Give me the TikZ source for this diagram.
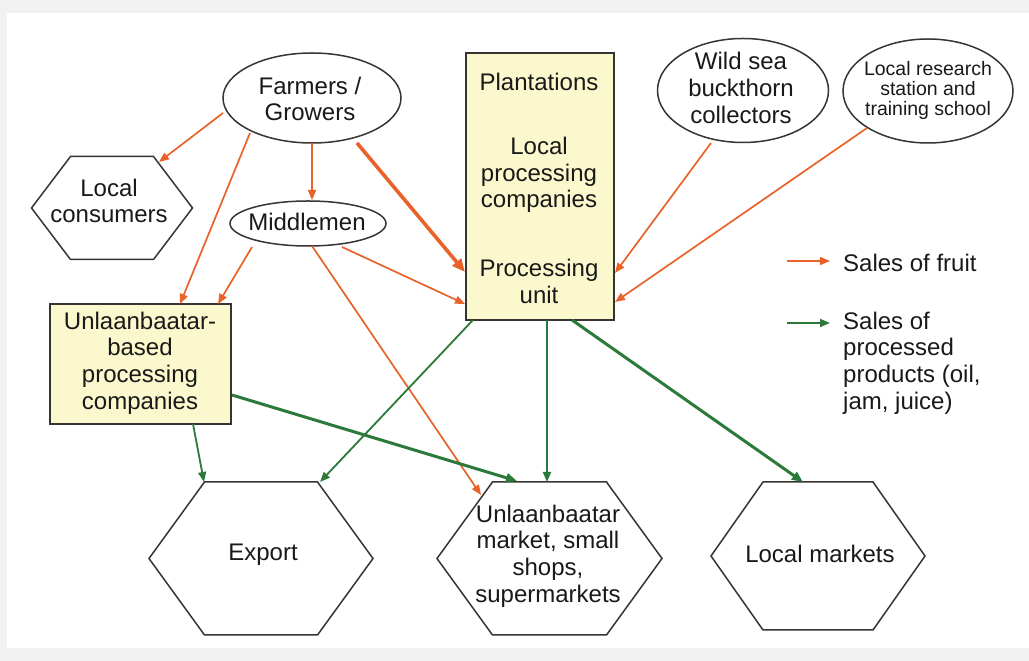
\documentclass[tikz,border=0pt]{standalone}
\usepackage{fontspec}
\setmainfont{Liberation Sans}
\usetikzlibrary{calc,shapes.geometric,arrows.meta}
\definecolor{fruit}{RGB}{232,98,42}
\definecolor{proc}{RGB}{44,122,58}
\definecolor{boxfill}{RGB}{250,248,204}
\definecolor{edgecol}{RGB}{55,52,50}
\definecolor{framecol}{RGB}{241,241,241}
\newcommand\hexshape[4]{%
  \draw[hexline] ($(#1.center)+(-#2,0)$) -- ($(#1.center)+(-#4,#3)$) -- ($(#1.center)+(#4,#3)$)
    -- ($(#1.center)+(#2,0)$) -- ($(#1.center)+(#4,-#3)$) -- ($(#1.center)+(-#4,-#3)$) -- cycle;}
\tikzset{
  txt/.style={font=\fontsize{24}{26.7}\selectfont, align=center, inner sep=0pt, text=black!90},
  smalltxt/.style={font=\fontsize{19.5}{20}\selectfont, align=center, inner sep=0pt, text=black!90},
  ell/.style={ellipse, draw=edgecol, line width=1.5pt, fill=white, inner sep=0pt},
  ybox/.style={rectangle, draw=edgecol, line width=1.5pt, fill=boxfill, inner sep=0pt},
  hexline/.style={draw=edgecol, line width=1.5pt, fill=white},
  slot/.style={inner sep=0pt, draw=none},
  fruitarr/.style={draw=fruit, line width=1.7pt, -{Triangle[length=10pt,width=8pt]}},
  fruitthick/.style={draw=fruit, line width=3.6pt, -{Triangle[length=13pt,width=11pt]}},
  procarr/.style={draw=proc, line width=1.8pt, -{Triangle[length=10pt,width=8pt]}},
  procthick/.style={draw=proc, line width=3pt, -{Triangle[length=11pt,width=9pt]}},
}
\begin{document}
\begin{tikzpicture}[x=1pt,y=1pt]
\useasboundingbox (0,0) rectangle (1029,661);
\fill[framecol] (0,0) rectangle (1029,661);
\fill[white] (7,13) rectangle (1029,648);

% shapes
\node[ell, minimum width=178pt, minimum height=90pt] (farm) at (312,563) {};
\node[txt] (farmt) at (310,562) {Farmers /\\Growers};
\node[ell, minimum width=156pt, minimum height=45pt] (mid) at (308,437.5) {};
\node[txt] (midt) at (307,439) {Middlemen};
\node[ell, minimum width=171pt, minimum height=104pt] (wild) at (743,570.5) {};
\node[txt] (wildt) at (741,573) {Wild sea\\buckthorn\\collectors};
\node[ell, minimum width=170pt, minimum height=104pt] (res) at (928,570) {};
\node[smalltxt] (rest) at (928,571) {Local research\\station and\\training school};

\node[ybox, minimum width=148pt, minimum height=267pt] (pu) at (540,474.5) {};
\node[txt] (put1) at (539,579) {Plantations};
\node[txt] (put2) at (539,486) {Local\\processing\\companies};
\node[txt] (put3) at (539,379.5) {Processing\\unit};

\node[ybox, minimum width=181pt, minimum height=120pt] (ub) at (140.5,297) {};
\node[txt] (ubt) at (140,298) {Unlaanbaatar-\\based\\processing\\companies};

\node[slot, minimum width=161pt, minimum height=103pt] (lc) at (112,453) {};
\hexshape{lc}{80.5}{51.5}{41.5}
\node[txt] (lct) at (109,460) {Local\\consumers};

\node[slot, minimum width=224pt, minimum height=153pt] (exp) at (261,102.5) {};
\hexshape{exp}{112}{76.5}{56.5}
\node[txt] (expt) at (263,106) {Export};

\node[slot, minimum width=225pt, minimum height=153pt] (mkt) at (549.5,102.5) {};
\hexshape{mkt}{112.5}{76.5}{57}
\node[txt] (mktt) at (548,105) {Unlaanbaatar\\market, small\\shops,\\supermarkets};

\node[slot, minimum width=214pt, minimum height=148pt] (lm) at (818,105) {};
\hexshape{lm}{107}{74}{55}
\node[txt] (lmt) at (820,107) {Local markets};

% sales of fruit
\draw[fruitarr] ($(farm.center)+(-89,-15)$) -- ($(lc.center)+(47,46)$);
\draw[fruitarr] ($(farm.center)+(-62,-35)$) -- ($(ub.center)+(39.5,60)$);
\draw[fruitarr] ($(farm.center)+(0,-45)$) -- ($(mid.center)+(4,23.5)$);
\draw[fruitthick] ($(farm.center)+(45,-45)$) -- ($(pu.center)+(-75,-85.5)$);
\draw[fruitarr] ($(mid.center)+(-56,-23.5)$) -- ($(ub.center)+(77.5,60)$);
\draw[fruitarr] ($(mid.center)+(34,-23.5)$) -- ($(pu.center)+(-75,-117.5)$);
\draw[fruitarr] ($(mid.center)+(4,-22.5)$) -- ($(mkt.center)+(-68.5,63.5)$);
\draw[fruitarr] ($(wild.center)+(-32,-52.5)$) -- ($(pu.center)+(75,-86.5)$);
\draw[fruitarr] ($(res.center)+(-61,-37)$) -- ($(pu.center)+(75,-115.5)$);

% sales of processed products
\draw[procarr] ($(ub.center)+(52.5,-60)$) -- ($(exp.center)+(-57,76.5)$);
\draw[procthick] ($(ub.center)+(91.5,-31)$) -- ($(mkt.center)+(-32.5,77.5)$);
\draw[procarr] ($(pu.center)+(-67,-133.5)$) -- ($(exp.center)+(59,76.5)$);
\draw[procarr] ($(pu.center)+(7,-133.5)$) -- ($(mkt.center)+(-2.5,76.5)$);
\draw[procthick] ($(pu.center)+(32,-133.5)$) -- ($(lm.center)+(-15,74)$);

% legend
\coordinate (lo1) at (787,400);
\coordinate (lo2) at (830,400);
\coordinate (lg1) at (787,338);
\coordinate (lg2) at (830,338);
\draw[fruitarr] (lo1) -- (lo2);
\draw[procarr] (lg1) -- (lg2);
\node[txt, anchor=west] (lft) at (843,398) {Sales of fruit};
\node[txt, anchor=west, align=left] (lpt) at (843,298) {Sales of\\processed\\products (oil,\\jam, juice)};
\end{tikzpicture}
\end{document}
